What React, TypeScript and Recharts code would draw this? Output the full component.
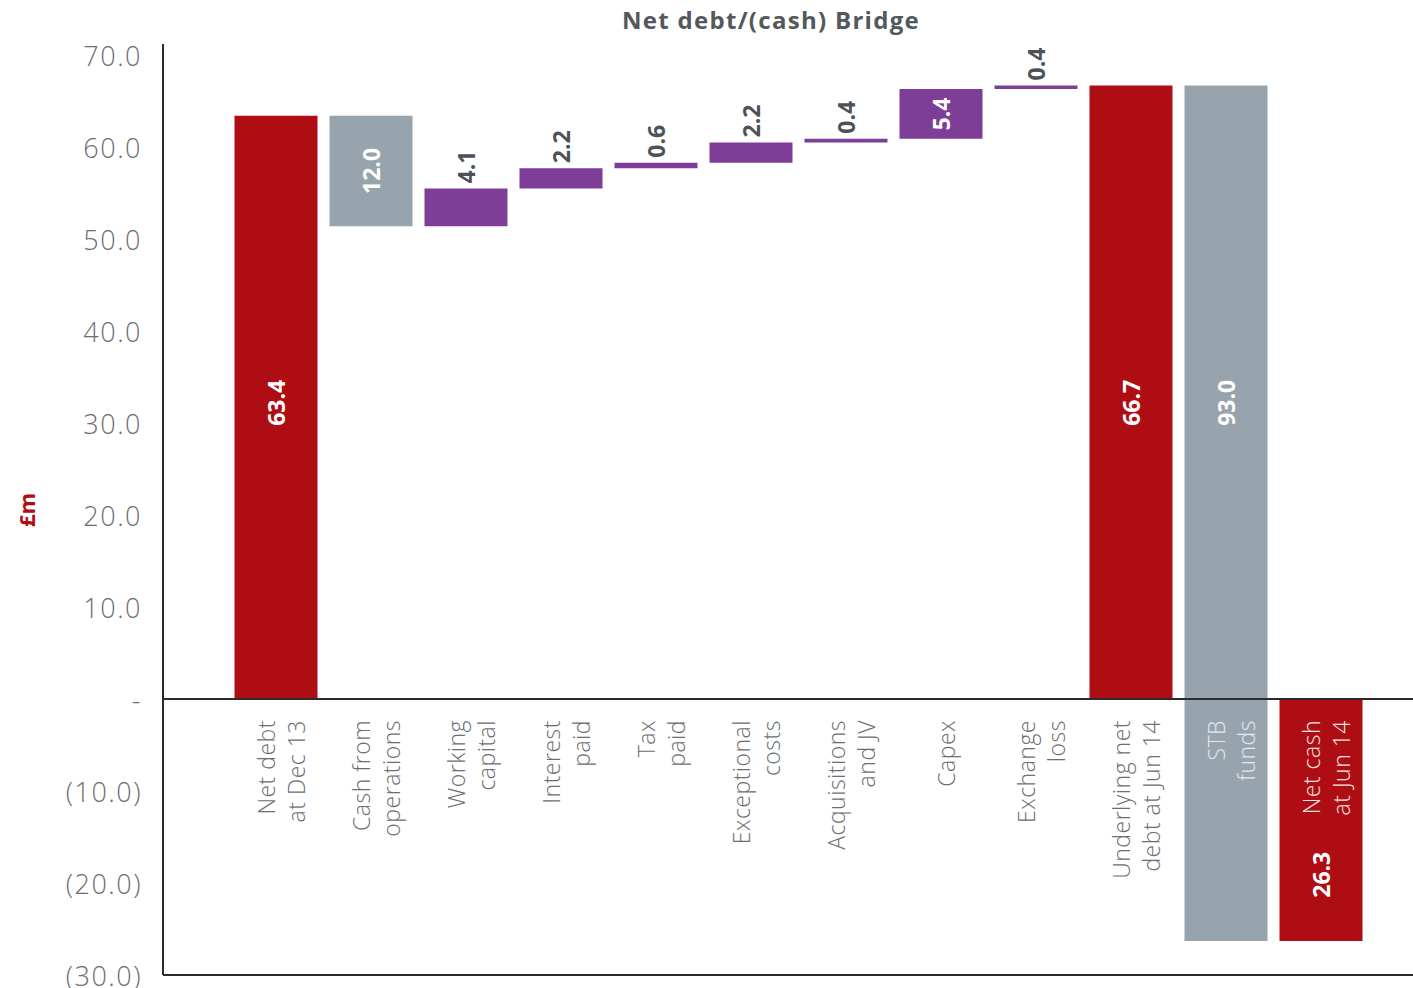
import React from "react";
import { BarChart, Bar, XAxis, YAxis, ReferenceLine, LabelList, Cell } from "recharts";

// ---- data ----
const categoryLines: string[][] = [
  ["Net debt", "at Dec 13"],
  ["Cash from", "operations"],
  ["Working", "capital"],
  ["Interest", "paid"],
  ["Tax", "paid"],
  ["Exceptional", "costs"],
  ["Acquisitions", "and JV"],
  ["Capex"],
  ["Exchange", "loss"],
  ["Underlying net", "debt at Jun 14"],
  ["STB", "funds"],
  ["Net cash", "at Jun 14"],
];
const lowValues = [0, 51.4, 51.4, 55.5, 57.7, 58.3, 60.5, 60.9, 66.3, 0, -26.3, -26.3];
const highValues = [63.4, 63.4, 55.5, 57.7, 58.3, 60.5, 60.9, 66.3, 66.7, 66.7, 66.7, 0];
const valueLabels = ["63.4", "12.0", "4.1", "2.2", "0.6", "2.2", "0.4", "5.4", "0.4", "66.7", "93.0", "26.3"];
const barKinds = ["total", "inflow", "outflow", "outflow", "outflow", "outflow", "outflow", "outflow", "outflow", "total", "inflow", "total"];
const labelPlacement = ["at", "center", "above", "above", "above", "above", "above", "center", "above", "at", "at", "at"];
const labelAtValues: (number | null)[] = [32.2, null, null, null, null, null, null, null, null, 32.2, 32.2, -19.1];
const yTicks = [-30, -20, -10, 0, 10, 20, 30, 40, 50, 60, 70];
const yDomain = [-30, 71.2];

const kindColors: Record<string, string> = {
  total: "#AE0D13",
  inflow: "#98A4AD",
  outflow: "#7E3D97",
};
const categoryTextColors = ["#6d6e71", "#6d6e71", "#6d6e71", "#6d6e71", "#6d6e71", "#6d6e71", "#6d6e71", "#6d6e71", "#6d6e71", "#6d6e71", "#e4e8eb", "#f6e3e3"];

const FONT = "'Open Sans', 'DejaVu Sans', sans-serif";

const data = categoryLines.map((lines, i) => ({
  name: lines.join(" "),
  range: [lowValues[i], highValues[i]],
}));

const YTick = (props: any) => {
  const { x, y, payload } = props;
  const v = payload.value as number;
  const txt = v === 0 ? "-" : v < 0 ? `(${Math.abs(v).toFixed(1)})` : v.toFixed(1);
  return (
    <text x={x} y={y} textAnchor="end" dominantBaseline="central" fill="#6d6e71" fontFamily={FONT} fontWeight={300} fontSize={27} letterSpacing={1.5}>
      {txt}
    </text>
  );
};

const BarLabel = (props: any) => {
  const { x, y, width, height, index } = props;
  if (index == null) return null;
  const low = lowValues[index];
  const high = highValues[index];
  const top = Math.min(y, y + height);
  const h = Math.abs(height);
  const ppu = h / (high - low);
  const pix = (v: number) => top + (high - v) * ppu;
  const cx = x + width / 2;
  const zeroY = pix(0);
  const place = labelPlacement[index];
  let valueEl: React.ReactNode = null;
  if (place === "above") {
    const ty = top - 5;
    valueEl = (
      <text x={cx} y={ty} transform={`rotate(-90 ${cx} ${ty})`} textAnchor="start" dominantBaseline="central" fill="#4d5257" fontFamily={FONT} fontWeight={700} fontSize={23}>
        {valueLabels[index]}
      </text>
    );
  } else {
    const ty = place === "center" ? top + h / 2 : pix(labelAtValues[index] as number);
    valueEl = (
      <text x={cx} y={ty} transform={`rotate(-90 ${cx} ${ty})`} textAnchor="middle" dominantBaseline="central" fill="#ffffff" fontFamily={FONT} fontWeight={700} fontSize={23}>
        {valueLabels[index]}
      </text>
    );
  }
  const lines = categoryLines[index];
  const ly = zeroY + 21;
  const offsets = lines.length === 1 ? [5] : [-10, 20];
  return (
    <g>
      {valueEl}
      {lines.map((ln, k) => {
        const lx = cx + offsets[k];
        return (
          <text key={k} x={lx} y={ly} transform={`rotate(-90 ${lx} ${ly})`} textAnchor="end" dominantBaseline="central" fill={categoryTextColors[index]} fontFamily={FONT} fontWeight={300} fontSize={23} letterSpacing={0.5}>
            {ln}
          </text>
        );
      })}
    </g>
  );
};

export default function App() {
  return (
    <div style={{ position: "absolute", left: 0, top: 0, width: 1413, height: 988, background: "#ffffff" }}>
      <div
        style={{
          position: "absolute",
          left: 521,
          top: 3,
          width: 500,
          textAlign: "center",
          fontFamily: FONT,
          fontWeight: 700,
          fontSize: 24,
          color: "#53585c",
          letterSpacing: 1.3,
        }}
      >
        Net debt/(cash) Bridge
      </div>
      <svg width={60} height={988} style={{ position: "absolute", left: 0, top: 0 }}>
        <text x={26} y={510} transform="rotate(-90 26 510)" textAnchor="middle" dominantBaseline="central" fill="#AE0D13" fontFamily={FONT} fontWeight={700} fontSize={22}>
          £m
        </text>
      </svg>
      <div style={{ position: "absolute", left: 0, top: 0 }}>
        <BarChart width={1413} height={988} data={data} margin={{ top: 44, right: 0, bottom: 13, left: 0 }} barCategoryGap={6}>
          <XAxis
            dataKey="name"
            height={0}
            tick={false}
            tickLine={false}
            axisLine={false}
            padding={{ left: 65.5, right: 44.5 }}
          />
          <YAxis
            width={163}
            domain={yDomain}
            ticks={yTicks}
            interval={0}
            allowDataOverflow
            tick={<YTick />}
            tickLine={false}
            tickSize={0}
            tickMargin={21}
            axisLine={{ stroke: "#2b2b2b", strokeWidth: 2 }}
          />
          <ReferenceLine y={0} stroke="#2b2b2b" strokeWidth={2} />
          <ReferenceLine y={yDomain[0]} stroke="#2b2b2b" strokeWidth={2} />
          <Bar dataKey="range" isAnimationActive={false}>
            {data.map((d, i) => (
              <Cell key={i} fill={kindColors[barKinds[i]]} />
            ))}
            <LabelList dataKey="range" content={<BarLabel />} />
          </Bar>
        </BarChart>
      </div>
    </div>
  );
}
